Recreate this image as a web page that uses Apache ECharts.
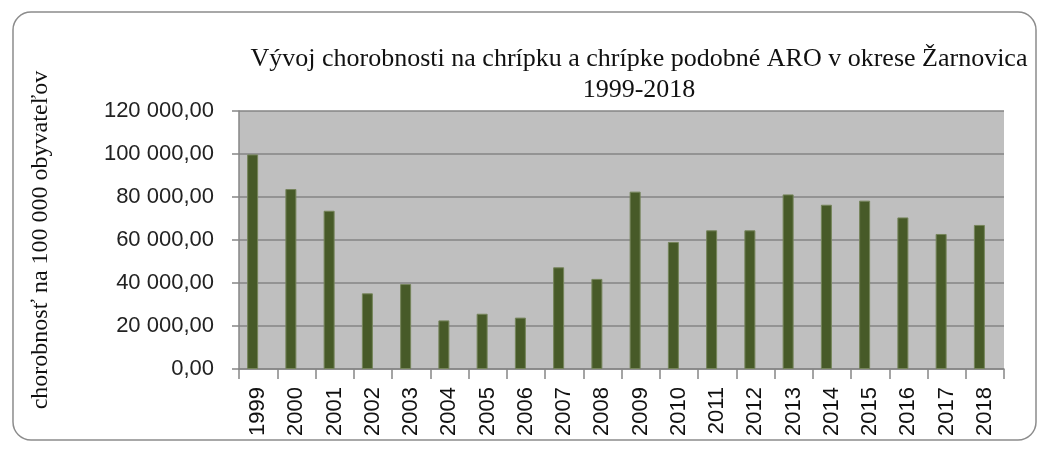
<!DOCTYPE html>
<html>
<head>
<meta charset="utf-8">
<script src="https://cdn.jsdelivr.net/npm/echarts@6/dist/echarts.min.js"></script>
<style>
html,body{margin:0;padding:0;background:#fff;}
#c{width:1043px;height:450px;}
</style>
</head>
<body>
<div id="c"></div>
<script>
const categories = ['1999','2000','2001','2002','2003','2004','2005','2006','2007','2008','2009','2010','2011','2012','2013','2014','2015','2016','2017','2018'];
const values = [99800, 83700, 73600, 35200, 39500, 22600, 25700, 23900, 47300, 41900, 82500, 59100, 64500, 64500, 81200, 76400, 78300, 70500, 62800, 67000];
const yTicks = {min: 0, max: 120000, interval: 20000};
const titleText = 'Vývoj chorobnosti na chrípku a chrípke podobné ARO v okrese Žarnovica\n1999-2018';
const yName = 'chorobnosť na 100 000 obyvateľov';

function fmt(v){
  const s = Math.round(v).toString().replace(/\B(?=(\d{3})+(?!\d))/g, ' ');
  return s + ',00';
}

const chart = echarts.init(document.getElementById('c'));
chart.setOption({
  animation: false,
  graphic: [{
    type: 'rect',
    shape: {x: 13, y: 12, width: 1023, height: 428, r: 18},
    style: {fill: 'none', stroke: '#8c8c8c', lineWidth: 1.5},
    z: -1
  }],
  title: {
    text: titleText,
    left: 634,
    textAlign: 'center',
    top: 39,
    textStyle: {fontFamily: 'Liberation Serif', fontWeight: 'normal', fontSize: 26, color: '#111', lineHeight: 31}
  },
  grid: {left: 239, right: 39, top: 111, bottom: 81, show: true, backgroundColor: '#bfbfbf', borderWidth: 0},
  xAxis: {
    type: 'category',
    data: categories,
    axisLine: {lineStyle: {color: '#868686', width: 1.5}},
    axisTick: {show: true, length: 10, lineStyle: {color: '#868686', width: 1.5}},
    axisLabel: {rotate: 90, fontFamily: 'Liberation Sans', fontSize: 22, color: '#111', margin: 18}
  },
  yAxis: {
    type: 'value',
    min: yTicks.min, max: yTicks.max, interval: yTicks.interval,
    name: yName,
    nameLocation: 'middle',
    nameGap: 186,
    nameRotate: 90,
    nameTextStyle: {fontFamily: 'Liberation Serif', fontSize: 24, color: '#111'},
    axisLine: {show: true, lineStyle: {color: '#868686', width: 1.5}},
    axisTick: {show: true, length: 7, lineStyle: {color: '#868686', width: 1.5}},
    splitLine: {lineStyle: {color: '#858585', width: 1.5}},
    axisLabel: {formatter: fmt, fontFamily: 'Liberation Sans', fontSize: 22, color: '#222', margin: 25}
  },
  series: [{
    type: 'bar',
    data: values,
    barWidth: 11,
    barGap: '0%',
    itemStyle: {color: '#475a28', borderColor: '#75845a', borderWidth: 1}
  }, {
    type: 'bar',
    data: [],
    barWidth: 11,
    silent: true
  }]
});
</script>
</body>
</html>
